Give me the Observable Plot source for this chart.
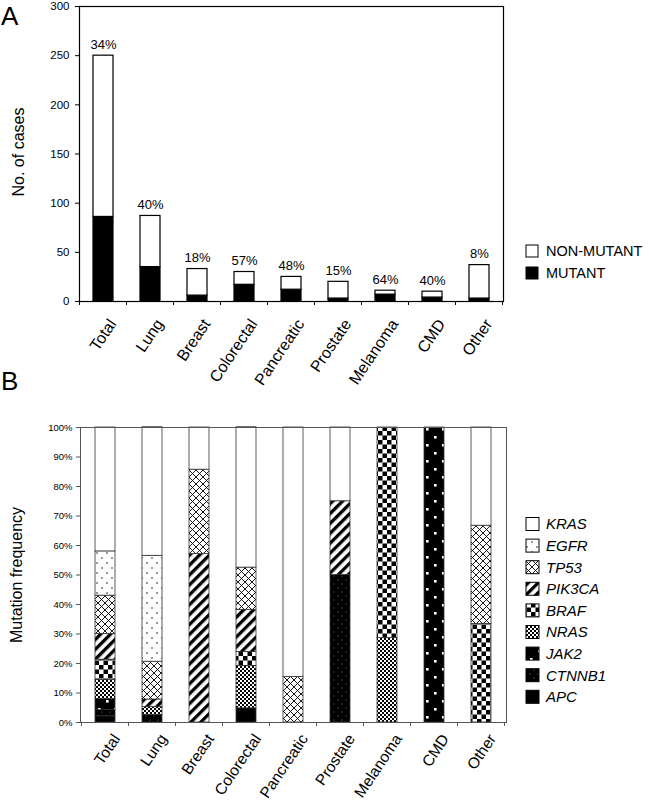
<!DOCTYPE html>
<html><head><meta charset="utf-8">
<script src="https://cdn.jsdelivr.net/npm/d3@7"></script>
<script src="https://cdn.jsdelivr.net/npm/@observablehq/plot@0.6"></script>
<style>
body{margin:0;background:#fff;font-family:"Liberation Sans",Arial,sans-serif;}
#wrap{position:relative;width:649px;height:802px;overflow:hidden;background:#fff;}
#wrap > svg{position:absolute;left:0;}
</style></head><body>
<svg width="0" height="0" style="position:absolute">
<defs>
<pattern id="p-KRAS" width="4" height="4" patternUnits="userSpaceOnUse"><rect width="4" height="4" fill="#fff"/></pattern>
<pattern id="p-EGFR" width="10" height="10" patternUnits="userSpaceOnUse"><rect width="10" height="10" fill="#fff"/><circle cx="2" cy="2" r="0.75" fill="#000"/><circle cx="7" cy="7" r="0.75" fill="#000"/></pattern>
<pattern id="p-TP53" width="7" height="7" patternUnits="userSpaceOnUse"><rect width="7" height="7" fill="#fff"/><path d="M0,0L7,7M7,0L0,7" stroke="#000" stroke-width="0.9"/></pattern>
<pattern id="p-PIK3CA" width="7" height="7" patternUnits="userSpaceOnUse" patternTransform="rotate(45)"><rect width="7" height="7" fill="#fff"/><rect width="3.3" height="7" fill="#000"/></pattern>
<pattern id="p-BRAF" width="9" height="9" patternUnits="userSpaceOnUse"><rect width="9" height="9" fill="#fff"/><rect width="4.5" height="4.5" fill="#000"/><rect x="4.5" y="4.5" width="4.5" height="4.5" fill="#000"/></pattern>
<pattern id="p-NRAS" width="4" height="4" patternUnits="userSpaceOnUse"><rect width="4" height="4" fill="#fff"/><rect width="2" height="2" fill="#000"/><rect x="2" y="2" width="2" height="2" fill="#000"/></pattern>
<pattern id="p-JAK2" width="16" height="16" patternUnits="userSpaceOnUse"><rect width="16" height="16" fill="#000"/><rect x="2" y="2" width="2.6" height="2.6" fill="#fff"/><rect x="10" y="10" width="2.6" height="2.6" fill="#fff"/></pattern>
<pattern id="p-CTNNB1" width="8" height="8" patternUnits="userSpaceOnUse"><rect width="8" height="8" fill="#000"/><circle cx="2" cy="2" r="0.6" fill="#888"/><circle cx="6" cy="6" r="0.6" fill="#888"/></pattern>
<pattern id="p-APC" width="4" height="4" patternUnits="userSpaceOnUse"><rect width="4" height="4" fill="#000"/></pattern>
</defs></svg>
<div id="wrap"></div>
<script>
// ---------- data ----------
const categories = ["Total","Lung","Breast","Colorectal","Pancreatic","Prostate","Melanoma","CMD","Other"];
const totalCases  = [250, 87, 33, 30, 25, 20, 11, 10, 37];
const mutantCases = [86, 35, 6, 17, 12, 3, 7, 4, 3];
const mutantPctLabels = ["34%","40%","18%","57%","48%","15%","64%","40%","8%"];
const statusNames = ["NON-MUTANT","MUTANT"];
const yTicksA = [0,50,100,150,200,250,300];

const genes = ["KRAS","EGFR","TP53","PIK3CA","BRAF","NRAS","JAK2","CTNNB1","APC"]; // legend order (top to bottom)
const stackOrder = ["APC","CTNNB1","JAK2","NRAS","BRAF","PIK3CA","TP53","EGFR","KRAS"]; // bottom to top
// mutation frequency (%) per category, order = categories
const KRAS   = [42.0, 43.6, 14.3, 47.6, 84.6, 25, 0, 0, 33.3];
const EGFR   = [15.0, 35.9, 0, 0, 0, 0, 0, 0, 0];
const TP53   = [13.0, 12.8, 28.6, 14.3, 15.4, 0, 0, 0, 33.3];
const PIK3CA = [8.7, 2.6, 57.1, 14.3, 0, 25, 0, 0, 0];
const BRAF   = [6.9, 0, 0, 4.8, 0, 0, 71.4, 0, 33.4];
const NRAS   = [6.5, 2.6, 0, 14.3, 0, 0, 28.6, 0, 0];
const JAK2   = [3.7, 0, 0, 0, 0, 0, 0, 100, 0];
const CTNNB1 = [2.1, 2.6, 0, 0, 0, 50, 0, 0, 0];
const APC    = [2.1, 0, 0, 4.8, 0, 0, 0, 0, 0];
const yTicksB = [0,10,20,30,40,50,60,70,80,90,100];

// ---------- build tables ----------
const geneFreq = {KRAS, EGFR, TP53, PIK3CA, BRAF, NRAS, JAK2, CTNNB1, APC};
const aRows = categories.flatMap((c,i)=>[
  {cat:c, status:"MUTANT", n:mutantCases[i]},
  {cat:c, status:"NON-MUTANT", n:totalCases[i]-mutantCases[i]}
]);
const bRows = [];
categories.forEach((c,i)=>stackOrder.forEach(g=>{const v=geneFreq[g][i]; if(v>0) bRows.push({cat:c, gene:g, v});}));

const FONT = "'Liberation Sans', Arial, sans-serif";
const wrap = document.getElementById("wrap");

function boundaryTicks(plot, color){
  const sx = plot.scale("x"), sy = plot.scale("y");
  const s0 = sx.apply(categories[0]), s1 = sx.apply(categories[1]);
  const step = s1 - s0, bw = sx.bandwidth;
  const first = s0 - (step - bw)/2;
  const y0 = sy.apply(0);
  const g = d3.select(plot).append("g").attr("stroke", color).attr("stroke-width", 1);
  for (let i = 0; i <= categories.length; i++) {
    const x = first + i*step;
    g.append("line").attr("x1", x).attr("x2", x).attr("y1", y0).attr("y2", y0 + 4);
  }
}

// ---------- Panel A ----------
const plotA = Plot.plot({
  width: 649, height: 386,
  marginLeft: 79, marginRight: 146, marginTop: 6, marginBottom: 85,
  style: {fontFamily: FONT, color: "#000", background: "transparent", overflow: "visible"},
  x: {domain: categories, paddingInner: 0.58, paddingOuter: 0.29, axis: null},
  y: {domain: [0, 300], axis: null},
  color: {domain: statusNames, range: ["#fff", "#000"]},
  marks: [
    Plot.barY(aRows, {x: "cat", y: "n", fill: "status", stroke: "#000", strokeWidth: 1.2, order: ["MUTANT","NON-MUTANT"]}),
    Plot.frame({stroke: "#000", strokeWidth: 1.2}),
    Plot.axisY({ticks: yTicksA, tickSize: 4, tickPadding: 6, fontSize: 11.5, label: null}),
    Plot.text(categories, {x: d=>d, y: (d,i)=>totalCases[i], text: (d,i)=>mutantPctLabels[i], dy: -7, lineAnchor: "bottom", fontSize: 13}),
    Plot.text(categories, {x: d=>d, frameAnchor: "bottom", rotate: -56, textAnchor: "end", lineAnchor: "top", dx: 4, dy: 16, fontSize: 16})
  ]
});
plotA.style.top = "0px";
boundaryTicks(plotA, "#000");
wrap.appendChild(plotA);

// ---------- Panel B ----------
const plotB = Plot.plot({
  width: 649, height: 416,
  marginLeft: 80, marginRight: 143, marginTop: 41, marginBottom: 80,
  style: {fontFamily: FONT, color: "#000", background: "transparent", overflow: "visible"},
  x: {domain: categories, paddingInner: 0.58, paddingOuter: 0.29, axis: null},
  y: {domain: [0, 100], axis: null},
  color: {domain: genes, range: genes.map(g=>`url(#p-${g})`)},
  marks: [
    Plot.barY(bRows, {x: "cat", y: "v", fill: "gene", stroke: "#333", strokeWidth: 0.8, order: stackOrder}),
    Plot.frame({stroke: "#555", strokeWidth: 1}),
    Plot.axisY({ticks: yTicksB, tickFormat: d=>d+"%", tickSize: 4, tickPadding: 4, fontSize: 9.5, stroke: "#555", label: null}),
    Plot.text(categories, {x: d=>d, frameAnchor: "bottom", rotate: -56, textAnchor: "end", lineAnchor: "top", dx: 6, dy: 10, fontSize: 15.5})
  ]
});
plotB.style.top = "386px";
boundaryTicks(plotB, "#555");
wrap.appendChild(plotB);

// ---------- overlay: panel letters, axis titles, legends ----------
const ov = d3.select(wrap).append("svg").attr("width", 649).attr("height", 802)
  .style("top", "0px").style("font-family", FONT).style("pointer-events", "none");
ov.append("text").attr("x", 1).attr("y", 25).attr("font-size", 26).text("A");
ov.append("text").attr("x", 1).attr("y", 390).attr("font-size", 26).text("B");
ov.append("text").attr("transform", "translate(23.5,152) rotate(-90)").attr("text-anchor", "middle").attr("font-size", 16).text("No. of cases");
ov.append("text").attr("transform", "translate(21.6,575) rotate(-90)").attr("text-anchor", "middle").attr("font-size", 16).text("Mutation frequency");

// legend A
const legA = ov.append("g");
statusNames.forEach((s,i)=>{
  const cy = 251 + i*22;
  legA.append("rect").attr("x", 526).attr("y", cy-6).attr("width", 12).attr("height", 12)
    .attr("fill", s === "MUTANT" ? "#000" : "#fff").attr("stroke", "#000").attr("stroke-width", 1);
  legA.append("text").attr("x", 546).attr("y", cy).attr("dy", "0.36em").attr("font-size", 14.5).text(s);
});
// legend B
const legB = ov.append("g");
genes.forEach((g,i)=>{
  const cy = 524 + i*21.6;
  legB.append("rect").attr("x", 526).attr("y", cy-6.5).attr("width", 13).attr("height", 13)
    .attr("fill", `url(#p-${g})`).attr("stroke", "#000").attr("stroke-width", 1);
  legB.append("text").attr("x", 546).attr("y", cy).attr("dy", "0.36em").attr("font-size", 15).attr("font-style", "italic").text(g);
});
</script>
</body></html>
